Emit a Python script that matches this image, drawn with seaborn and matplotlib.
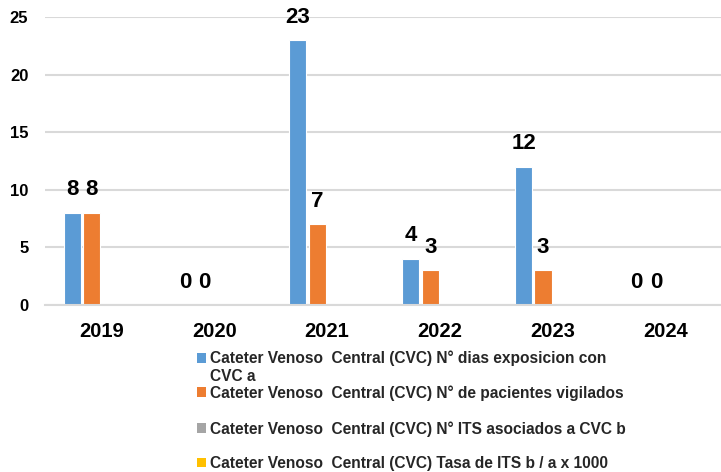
import matplotlib
matplotlib.use("Agg")
import matplotlib.pyplot as plt
import seaborn as sns
import pandas as pd
from matplotlib.patches import Patch, Rectangle
from matplotlib.legend_handler import HandlerPatch

years = ["2019", "2020", "2021", "2022", "2023", "2024"]
series_names = [
    "Cateter Venoso  Central (CVC) N° dias exposicion con\nCVC a",
    "Cateter Venoso  Central (CVC) N° de pacientes vigilados",
    "Cateter Venoso  Central (CVC) N° ITS asociados a CVC b",
    "Cateter Venoso  Central (CVC) Tasa de ITS b / a x 1000",
]
dias_exposicion = [8, 0, 23, 4, 12, 0]
pacientes_vigilados = [8, 0, 7, 3, 3, 0]
its_asociados = [0, 0, 0, 0, 0, 0]
tasa_its = [0, 0, 0, 0, 0, 0]
colors = ["#5B9BD5", "#ED7D31", "#A5A5A5", "#FFC000"]
yticks = [0, 5, 10, 15, 20, 25]

all_values = [dias_exposicion, pacientes_vigilados, its_asociados, tasa_its]
rows = []
for name, vals in zip(series_names, all_values):
    for y, v in zip(years, vals):
        rows.append({"year": y, "series": name, "value": v})
df = pd.DataFrame(rows)

sns.set_theme(style="white")
plt.rcParams["font.family"] = ["Liberation Sans", "DejaVu Sans"]
plt.rcParams["font.weight"] = "bold"

fig = plt.figure(figsize=(7.21, 4.72), dpi=100)
ax = fig.add_axes([45 / 721, 1 - 305 / 472, 677 / 721, 288 / 472])

sns.barplot(data=df, x="year", y="value", hue="series", hue_order=series_names,
            palette=colors, saturation=1, width=0.69, gap=0.12, errorbar=None,
            legend=False, edgecolor="white", linewidth=0.8, ax=ax)

for i in range(2):
    cont = ax.containers[i]
    ax.bar_label(cont, labels=[f"{v:g}" for v in all_values[i]], padding=9,
                 fontsize=16, fontweight="bold", color="black")

ax.set_ylim(0, 25)
ax.set_yticks(yticks)
ax.set_yticklabels([str(t) for t in yticks], fontsize=12, fontweight="bold")
ax.set_xlim(-0.5, len(years) - 0.5)
for lab in ax.get_xticklabels():
    lab.set_fontsize(14.5)
    lab.set_fontweight("bold")
ax.tick_params(axis="x", length=0, pad=12, colors="black")
ax.tick_params(axis="y", length=0, pad=12, colors="black")
ax.set_xlabel("")
ax.set_ylabel("")
ax.yaxis.grid(True, color="#D9D9D9", linewidth=1.5)
ax.set_axisbelow(True)
for s in ["top", "right", "left"]:
    ax.spines[s].set_visible(False)
ax.spines["bottom"].set_color("#D9D9D9")
ax.spines["bottom"].set_linewidth(1.5)


def shifted_rect(shift):
    def f(legend, orig_handle, xdescent, ydescent, width, height, fontsize):
        return Rectangle((-xdescent, -ydescent + shift), width, height)
    return f


tops = [350, 385, 421, 456]
shifts = [7.0, 0, 0, 0]
for name, col, top, sh in zip(series_names, colors, tops, shifts):
    h = Patch(facecolor=col, edgecolor="none")
    leg = fig.legend(handles=[h], labels=[name],
                     loc="upper left", bbox_to_anchor=(197 / 721, 1 - top / 472),
                     frameon=False, prop={"weight": "bold", "size": 11.2},
                     handlelength=0.6, handleheight=0.6, handletextpad=0.25,
                     borderpad=0, borderaxespad=0,
                     handler_map={h: HandlerPatch(patch_func=shifted_rect(sh))})
    for t in leg.get_texts():
        t.set_linespacing(1.3)

fig.savefig("out.png", dpi=100)
